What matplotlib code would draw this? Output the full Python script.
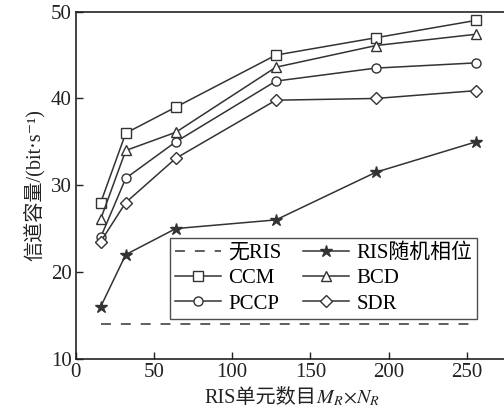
import matplotlib.pyplot as plt

plt.rcParams["font.family"] = ["Liberation Serif", "Noto Sans CJK SC", "DejaVu Sans"]
plt.rcParams["mathtext.fontset"] = "stix"

# ---- data ---------------------------------------------------------------
elements = [16, 32, 64, 128, 192, 256]
no_ris = [14, 14, 14, 14, 14, 14]
ris_random = [16.0, 22.0, 25.0, 26.0, 31.5, 35.0]
ccm = [28.0, 36.0, 39.0, 45.0, 47.0, 49.0]
bcd = [26.1, 34.0, 36.1, 43.6, 46.1, 47.4]
pccp = [24.0, 30.8, 35.0, 42.0, 43.5, 44.1]
sdr = [23.5, 28.0, 33.1, 39.8, 40.0, 40.9]

# ---- figure -------------------------------------------------------------
fig = plt.figure(figsize=(5.04, 4.15), dpi=100)
x0, x1 = 75.7, 75.7 + 280 * 1.564
ax = fig.add_axes([x0 / 504, 1 - 358.7 / 415, (x1 - x0) / 504, (358.7 - 11.7) / 415])

LC = "#333333"
kw = dict(color=LC, linewidth=1.1, markersize=6.5, markerfacecolor="white",
          markeredgecolor=LC, markeredgewidth=1.0)

h_no, = ax.plot(elements, no_ris, linestyle=(0, (6.5, 6.5)), color=LC, linewidth=1.1, label="无RIS")
h_rnd, = ax.plot(elements, ris_random, marker="*", color=LC, linewidth=1.1, markersize=9,
                 markerfacecolor=LC, markeredgecolor=LC, label="RIS随机相位")
h_ccm, = ax.plot(elements, ccm, marker="s", label="CCM", **kw)
h_bcd, = ax.plot(elements, bcd, marker="^", label="BCD", **dict(kw, markersize=7.5))
h_pccp, = ax.plot(elements, pccp, marker="o", label="PCCP", **kw)
h_sdr, = ax.plot(elements, sdr, marker="D", label="SDR", **dict(kw, markersize=6))

ax.set_xlim(0, 280)
ax.set_ylim(10, 50)
ax.set_xticks([0, 50, 100, 150, 200, 250])
ax.set_yticks([10, 20, 30, 40, 50])
ax.tick_params(direction="in", length=5, width=1.0, labelsize=15, colors="#222222")
ax.tick_params(axis="x", pad=3)
ax.tick_params(axis="y", pad=3)
for s in ax.spines.values():
    s.set_linewidth(1.2)
    s.set_color("#222222")

# x label: CJK part + math part side by side
fig.text(316 / 504, 1 - 403 / 415, "RIS单元数目", fontsize=14.5,
         ha="right", va="baseline", color="#222222")
fig.text(316 / 504, 1 - 403 / 415, r"$M_R\!\times\!N_R$", fontsize=14.5,
         ha="left", va="baseline", color="#222222")
ax.set_ylabel("信道容量/(bit·s⁻¹)", fontsize=14.5, labelpad=4, color="#222222")

handles = [h_no, h_ccm, h_pccp, h_rnd, h_bcd, h_sdr]
leg = ax.legend(handles=handles, labels=[h.get_label() for h in handles],
                ncol=2, loc="upper left", bbox_to_anchor=(94 / 437.9, 120.7 / 347),
                fontsize=15, frameon=True, fancybox=False, handlelength=2.2,
                handletextpad=0.35, columnspacing=1.05, borderpad=0.25,
                labelspacing=0.28, borderaxespad=0)
leg.get_frame().set_edgecolor("#222222")
leg.get_frame().set_linewidth(1.0)

fig.savefig("out.png", dpi=100)
